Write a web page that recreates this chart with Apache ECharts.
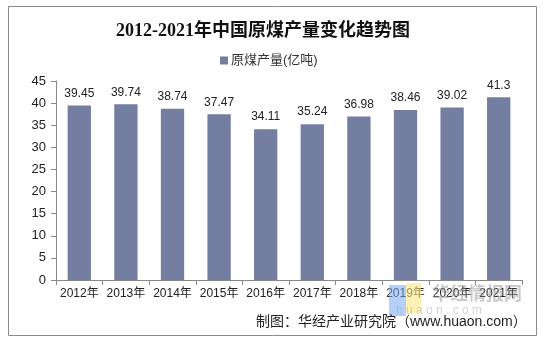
<!DOCTYPE html>
<html>
<head>
<meta charset="utf-8">
<script src="https://cdn.jsdelivr.net/npm/echarts@6/dist/echarts.min.js"></script>
<style>
  html, body { margin: 0; padding: 0; background: #fff; }
  #chart { width: 546px; height: 342px; }
</style>
</head>
<body>
<div id="chart"></div>
<script>
// 2012–2021 raw coal output (100 million tonnes)
const years = ['2012年', '2013年', '2014年', '2015年', '2016年', '2017年', '2018年', '2019年', '2020年', '2021年'];
const output = [39.45, 39.74, 38.74, 37.47, 34.11, 35.24, 36.98, 38.46, 39.02, 41.3];
const seriesName = '原煤产量(亿吨)';
const yTicks = { min: 0, max: 45, interval: 5 };

const cjkSans = '"Liberation Sans", Arial, "Noto Sans CJK SC", sans-serif';
const cjkSerif = '"Liberation Serif", "Times New Roman", "Noto Sans CJK SC", serif';

const chart = echarts.init(document.getElementById('chart'), null, { renderer: 'canvas' });
chart.setOption({
  backgroundColor: '#fff',
  animation: false,
  title: {
    text: '2012-2021年中国原煤产量变化趋势图',
    left: 111,
    top: 17,
    textStyle: { fontFamily: cjkSerif, fontSize: 18, fontWeight: 'bold', color: '#111' }
  },
  legend: {
    data: [seriesName],
    left: 215,
    top: 49,
    icon: 'rect',
    itemWidth: 8,
    itemHeight: 8,
    itemGap: 4,
    textStyle: { fontFamily: cjkSans, fontSize: 13, color: '#333', padding: [0, 0, 0, -2] }
  },
  grid: { left: 56, right: 24, top: 81, bottom: 62, containLabel: false },
  xAxis: {
    type: 'category',
    data: years,
    axisLine: { lineStyle: { color: '#888', width: 1 } },
    axisTick: { show: true, length: 5, interval: 0, lineStyle: { color: '#888' } },
    axisLabel: { interval: 0, fontFamily: cjkSans, fontSize: 12, color: '#222', margin: 8 }
  },
  yAxis: {
    type: 'value',
    min: yTicks.min,
    max: yTicks.max,
    interval: yTicks.interval,
    axisLine: { show: true, lineStyle: { color: '#888', width: 1 } },
    axisTick: { show: true, length: 5, lineStyle: { color: '#888' } },
    axisLabel: { fontFamily: cjkSans, fontSize: 13, color: '#222', margin: 10 },
    splitLine: { show: false }
  },
  series: [{
    name: seriesName,
    type: 'bar',
    data: output,
    barWidth: '50%',
    itemStyle: { color: '#737EA0' },
    label: {
      show: true,
      position: 'top',
      distance: 6,
      fontFamily: cjkSans,
      fontSize: 12,
      color: '#222'
    }
  }],
  graphic: [
    // outer frame
    {
      type: 'rect', z: -1, silent: true,
      shape: { x: 8.5, y: 6.5, width: 528, height: 329 },
      style: { fill: 'none', stroke: '#8a8a8a', lineWidth: 1 }
    },
    // watermark logo blocks
    {
      type: 'rect', z: 5, silent: true,
      shape: { x: 389, y: 285, width: 17, height: 31 },
      style: { fill: 'rgba(120,170,240,0.55)' }
    },
    {
      type: 'rect', z: 5, silent: true,
      shape: { x: 406, y: 283, width: 15, height: 30 },
      style: { fill: 'rgba(250,230,130,0.6)' }
    },
    {
      type: 'text', z: 5, silent: true,
      left: 432, top: 284,
      style: { text: '华经情报网', font: 'bold 18px "Noto Sans CJK SC", sans-serif', fill: 'rgba(150,150,150,0.5)' }
    },
    {
      type: 'text', z: 5, silent: true,
      left: 396, top: 305,
      style: { text: 'h u a o n . c o m', font: '12px "Liberation Sans", Arial, sans-serif', fill: 'rgba(170,170,170,0.5)' }
    },
    // source note
    {
      type: 'text', z: 6, silent: true,
      left: 256, top: 315,
      style: { text: '制图：华经产业研究院（www.huaon.com）', font: '14px "Liberation Sans", Arial, "Noto Sans CJK SC", sans-serif', fill: '#222' }
    }
  ]
});
</script>
</body>
</html>
